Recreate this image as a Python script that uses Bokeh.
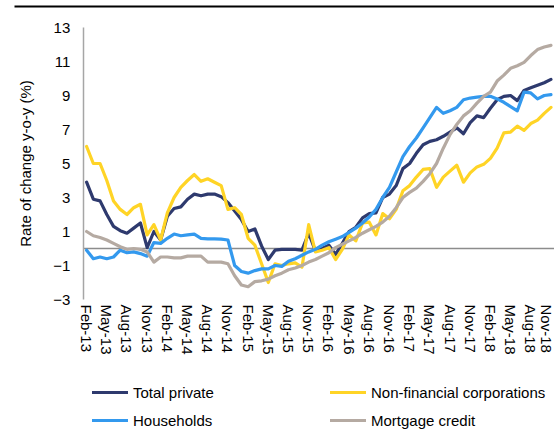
import pandas as pd
from bokeh.plotting import figure
from bokeh.models import Range1d, FixedTicker, Legend, LegendItem, LinearAxis
from bokeh.embed import file_html
from bokeh.resources import INLINE

# ---- categories (monthly, Feb-13 .. Nov-18) ----
months = pd.date_range("2013-02-01", "2018-11-01", freq="MS").strftime("%b-%y").tolist()
tick_labels = ["Feb-13", "May-13", "Aug-13", "Nov-13", "Feb-14", "May-14", "Aug-14", "Nov-14",
               "Feb-15", "May-15", "Aug-15", "Nov-15", "Feb-16", "May-16", "Aug-16", "Nov-16",
               "Feb-17", "May-17", "Aug-17", "Nov-17", "Feb-18", "May-18", "Aug-18", "Nov-18"]
y_ticks = [-3, -1, 1, 3, 5, 7, 9, 11, 13]

# ---- series (% y-o-y) ----
total_private = [3.9, 2.9, 2.8, 2.0, 1.3, 1.05, 0.9, 1.2, 1.5, 0.05,
                 1.0, 0.5, 1.9, 2.35, 2.45, 2.9, 3.2, 3.1, 3.2, 3.2,
                 3.05, 2.7, 2.2, 1.7, 1.0, 1.15, 0.15, -0.65, -0.1, -0.05,
                 -0.05, -0.05, -0.1, 0.9, -0.15, 0.0, 0.2, -0.35, 0.3, 1.0,
                 1.25, 1.8, 2.05, 2.1, 3.0, 3.2, 3.7, 4.7, 5.0, 5.6,
                 6.1, 6.3, 6.4, 6.6, 6.85, 7.1, 6.75, 7.4, 7.8, 7.7,
                 8.25, 8.75, 8.95, 9.0, 8.7, 9.3, 9.45, 9.6, 9.75, 9.95]
non_financial = [6.0, 5.0, 5.0, 4.0, 2.8, 2.3, 2.0, 2.4, 2.6, 0.8,
                 1.4, 0.5, 2.1, 3.0, 3.6, 4.0, 4.35, 3.95, 4.1, 3.9,
                 3.7, 2.3, 2.4, 2.0, 0.6, 0.2, -0.9, -2.0, -0.9, -1.0,
                 -0.9, -0.85, -1.1, 1.4, -0.2, -0.1, 0.05, -0.65, -0.05, 0.8,
                 0.45, 1.5, 1.55, 0.8, 2.05, 1.75, 2.3, 3.4, 3.7, 4.2,
                 4.65, 4.7, 3.6, 4.2, 4.55, 4.9, 3.9, 4.45, 4.8, 4.95,
                 5.3, 5.9, 6.8, 6.85, 7.2, 6.95, 7.35, 7.55, 7.95, 8.3]
households = [-0.1, -0.6, -0.5, -0.6, -0.5, -0.1, -0.25, -0.2, -0.3, -0.45,
              0.35, 0.3, 0.6, 0.85, 0.75, 0.8, 0.85, 0.6, 0.57, 0.57,
              0.55, 0.5, -1.0, -1.35, -1.45, -1.3, -1.2, -1.2, -1.0, -1.05,
              -0.75, -0.6, -0.4, -0.2, -0.05, 0.2, 0.4, 0.55, 0.7, 0.95,
              1.2, 1.5, 1.85, 2.3, 3.0, 3.6, 4.5, 5.4, 6.0, 6.5,
              7.1, 7.7, 8.3, 7.95, 8.1, 8.3, 8.75, 8.85, 8.9, 8.95,
              8.95, 8.8, 8.6, 8.35, 8.1, 9.2, 9.15, 8.8, 9.0, 9.05]
mortgage = [1.0, 0.75, 0.65, 0.5, 0.3, 0.1, -0.05, 0.0, -0.05, -0.2,
            -0.8, -0.5, -0.5, -0.55, -0.55, -0.45, -0.45, -0.45, -0.8, -0.8,
            -0.8, -0.9, -1.6, -2.15, -2.25, -1.95, -1.9, -1.8, -1.6, -1.45,
            -1.25, -1.15, -1.0, -0.8, -0.65, -0.45, -0.25, 0.05, 0.25, 0.45,
            0.65, 0.9, 1.1, 1.3, 1.55, 1.9, 2.4, 3.0, 3.3, 3.55,
            3.95, 4.4, 5.0, 5.9, 6.7, 7.3, 7.8, 8.1, 8.55, 8.95,
            9.2, 9.85, 10.2, 10.6, 10.75, 10.95, 11.35, 11.7, 11.85, 11.95]

series_names = ["Total private", "Non-financial corporations", "Households", "Mortgage credit"]
series_colors = ["#2e3a6e", "#ffd426", "#3399ee", "#b5aaa2"]

x = list(range(len(months)))
tick_pos = [months.index(t) for t in tick_labels]

FONT = "Liberation Sans"

# ---- layout geometry (pixels inside the figure) ----
W, H = 554, 432
X0_PX, DX_PX = 86.1, 6.73      # pixel of first month, pixels per month
Y0_PX, DY_PX = 248.0, 17.0     # pixel of value 0 (from top), pixels per unit

x_start = -X0_PX / DX_PX
x_end = (W - X0_PX) / DX_PX
y_end = Y0_PX / DY_PX
y_start = -(H - Y0_PX) / DY_PX

p = figure(width=W, height=H, output_backend="svg", toolbar_location=None,
           x_range=Range1d(x_start, x_end), y_range=Range1d(y_start, y_end),
           x_axis_location=None, y_axis_location=None,
           min_border=0)
p.outline_line_color = None
p.background_fill_color = "white"
p.border_fill_color = "white"
p.grid.visible = False

axis_x_pos = -0.5          # category boundary before the first month
y_lo, y_hi = y_ticks[0], y_ticks[-1]

# y axis
yax = LinearAxis(fixed_location=axis_x_pos, bounds=(y_lo, y_hi),
                 ticker=FixedTicker(ticks=y_ticks))
yax.axis_line_color = "#a6a6a6"
yax.axis_line_width = 1.5
yax.major_tick_line_color = None
yax.minor_tick_line_color = None
yax.major_tick_out = 0
yax.major_tick_in = 0
yax.major_label_standoff = 13
yax.major_label_text_font = FONT
yax.major_label_text_font_size = "15px"
yax.major_label_text_color = "#000000"
yax.axis_label = "Rate of change y-o-y (%)"
yax.axis_label_text_font = FONT
yax.axis_label_text_font_size = "15px"
yax.axis_label_text_font_style = "normal"
yax.axis_label_text_color = "#000000"
yax.axis_label_standoff = 16
p.add_layout(yax, "left")

# x axis labels (under the -3 line)
xax = LinearAxis(fixed_location=y_lo, ticker=FixedTicker(ticks=tick_pos))
xax.major_label_overrides = {pos: lab for pos, lab in zip(tick_pos, tick_labels)}
xax.major_label_orientation = "vertical"
xax.axis_line_color = None
xax.major_tick_line_color = None
xax.minor_tick_line_color = None
xax.major_tick_out = 0
xax.major_tick_in = 0
xax.major_label_standoff = 5
xax.major_label_text_font = FONT
xax.major_label_text_font_size = "15px"
xax.major_label_text_color = "#000000"
p.add_layout(xax, "below")

# horizontal axis line at zero (behind the series)
zax = LinearAxis(fixed_location=0, bounds=(axis_x_pos, x_end), ticker=FixedTicker(ticks=[]))
zax.axis_line_color = "#8c8c8c"
zax.axis_line_width = 1.5
zax.major_tick_line_color = None
zax.minor_tick_line_color = None
zax.major_label_text_alpha = 0
zax.level = "underlay"
p.add_layout(zax, "below")

# thin black rule across the top
rule_left = -(X0_PX - 14) / DX_PX
tax = LinearAxis(fixed_location=(Y0_PX - 6) / DY_PX, bounds=(rule_left, x_end),
                 ticker=FixedTicker(ticks=[]))
tax.axis_line_color = "#000000"
tax.axis_line_width = 2
tax.major_tick_line_color = None
tax.minor_tick_line_color = None
tax.major_label_text_alpha = 0
p.add_layout(tax, "above")

renderers = []
for vals, col in zip([total_private, non_financial, households, mortgage], series_colors):
    r = p.line(x, vals, line_color=col, line_width=3.2, line_join="round", line_cap="round")
    renderers.append(r)

def make_legend(idx, loc):
    leg = Legend(items=[LegendItem(label=series_names[i], renderers=[renderers[i]]) for i in idx],
                 orientation="horizontal", location=loc)
    leg.border_line_color = None
    leg.background_fill_alpha = 0
    leg.padding = 0
    leg.margin = 0
    leg.spacing = 10
    leg.glyph_width = 36
    leg.glyph_height = 18
    leg.label_height = 18
    leg.label_width = 187
    leg.label_standoff = 5
    leg.label_text_font = FONT
    leg.label_text_font_size = "15px"
    leg.label_text_color = "#000000"
    return leg

p.add_layout(make_legend([0, 1], (92, 31)), "center")
p.add_layout(make_legend([2, 3], (92, 3)), "center")

open("out.html", "w").write(file_html(p, INLINE))
